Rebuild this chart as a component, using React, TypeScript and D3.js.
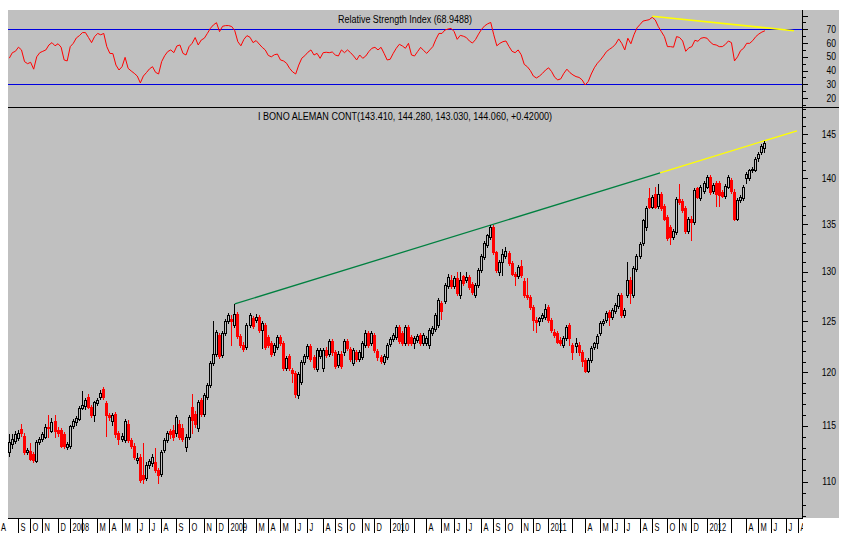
import React from "react";
import * as d3 from "d3";

type Bar = [number, number, number, number]; // open, high, low, close

const bars2007: Bar[] = [
  [112.6,114.2,112.3,113.5],[113.3,114.2,113.0,113.8],[113.6,114.5,113.4,114.2],[113.9,114.6,113.7,114.3],[114.7,115.2,114.1,114.3],
  [114.1,114.3,112.4,112.6],[112.6,113.0,112.4,112.8],[112.7,113.4,111.9,112.0],[112.4,112.6,111.7,111.9],[111.8,113.7,111.7,113.5],
  [113.5,114.0,113.3,113.8],[113.8,114.4,113.6,114.2],[114.0,115.2,113.9,114.9],[114.9,116.0,114.0,114.8],[114.5,115.7,114.4,115.3],
  [115.4,116.0,114.0,114.5],[114.6,114.9,114.1,114.3],[114.6,114.8,113.1,113.2],[114.2,114.4,113.0,113.2],[113.1,113.5,112.9,113.3],
];
const bars2008: Bar[] = [
  [113.2,115.1,113.0,115.0],[115.0,115.6,114.8,115.4],[115.3,115.9,115.1,115.7],[115.6,116.8,115.5,116.6],[116.6,118.2,116.5,116.9],
  [116.8,117.6,116.5,117.4],[117.7,117.9,116.6,116.7],[116.7,116.9,115.8,116.0],[116.0,117.3,115.4,117.2],[117.1,117.6,116.9,117.4],
  [117.7,118.3,117.5,118.0],[118.4,118.6,117.5,117.7],[117.1,117.3,114.1,116.0],[116.0,116.2,115.5,115.8],[115.4,116.2,115.1,116.0],
  [116.1,116.3,114.0,114.2],[114.3,114.5,113.3,113.8],[113.8,114.3,113.6,114.1],[113.7,115.6,113.5,115.4],[115.2,115.5,113.5,113.7],
  [113.7,113.9,113.0,113.2],[113.2,113.4,112.0,112.2],[111.9,112.5,111.6,112.1],[112.2,112.4,110.0,110.1],[110.6,113.4,109.9,110.2],
  [110.3,111.7,110.1,111.5],[111.5,112.0,111.2,111.8],[111.6,112.4,111.4,112.2],[111.7,113.0,110.8,111.0],[111.0,111.2,109.9,110.6],
  [110.7,112.8,110.5,112.6],[112.8,113.9,112.6,113.7],[113.7,114.5,113.5,114.3],[114.5,114.7,113.9,114.2],[114.6,115.1,113.7,114.0],
  [114.3,116.0,114.1,115.8],[115.2,115.5,113.8,114.0],[114.8,115.2,113.6,113.8],[113.1,114.2,112.7,114.0],[114.0,116.0,113.8,115.8],
  [116.7,117.9,114.3,115.5],[116.1,116.4,114.9,115.2],[114.8,117.4,114.5,117.2],[117.4,117.6,115.9,116.1],[116.1,118.0,115.9,117.8],
  [117.7,119.0,117.5,118.8],[118.8,121.1,118.6,120.9],[120.9,125.0,120.7,121.8],[121.8,124.1,121.6,123.9],[123.6,123.8,121.4,121.6],
  [121.7,124.0,121.5,123.8],[123.8,125.2,123.6,125.0],
];
const bars2009: Bar[] = [
  [125.0,125.8,124.8,125.6],[125.2,125.6,122.6,125.0],[124.6,126.7,124.4,125.7],[125.7,125.9,123.3,123.5],[123.5,123.7,122.4,122.6],
  [122.6,122.9,122.0,122.2],[122.4,124.8,122.2,124.6],[124.6,125.8,124.4,125.6],[125.3,125.5,124.3,124.5],[125.1,125.7,124.9,125.4],
  [125.4,125.6,123.9,124.1],[124.1,125.0,122.3,124.8],[124.6,124.8,122.2,122.4],[123.4,123.6,122.4,122.6],[122.8,123.0,121.6,121.8],
  [121.9,122.8,121.7,122.6],[122.4,123.6,122.2,123.4],[123.4,123.6,122.6,122.8],[122.8,123.0,120.2,120.4],[120.4,121.6,120.2,121.4],
  [121.6,121.8,120.2,120.4],[120.2,120.4,119.1,119.9],[119.9,120.1,117.7,117.9],[117.8,120.0,117.6,119.8],[119.1,121.2,118.9,121.0],
  [121.0,121.8,120.8,121.6],[121.6,122.7,121.4,122.5],[122.5,122.7,121.1,121.3],[121.5,121.7,120.3,120.5],[120.3,122.3,120.1,122.1],
  [121.6,122.3,121.4,122.1],[120.4,122.3,120.1,122.1],[122.1,122.4,121.5,121.7],[121.8,123.2,121.6,123.0],[123.0,123.2,121.7,121.9],
  [121.9,122.1,120.4,120.6],[120.7,122.0,120.5,121.8],[121.8,122.0,120.4,120.6],[121.9,123.2,121.7,123.0],[123.0,123.2,122.1,122.3],
  [122.2,122.4,121.1,121.3],[120.9,122.3,120.7,122.1],[121.9,122.1,121.1,121.3],[121.3,122.1,121.1,121.9],[121.5,123.0,121.3,122.8],
  [122.6,124.1,122.4,123.8],[123.8,124.0,122.4,122.6],[122.8,124.0,122.6,123.8],[123.6,123.8,121.9,122.1],[122.0,122.2,121.2,121.5],
  [121.5,121.7,120.9,121.1],[121.0,121.8,120.8,121.6],[121.5,122.8,121.3,122.6],
];
const bars2010: Bar[] = [
  [122.7,123.4,122.5,123.2],[123.2,123.8,123.0,123.6],[123.4,124.6,123.2,124.4],[124.4,124.6,122.8,123.0],[123.8,124.0,122.6,122.8],
  [122.8,124.6,122.6,124.4],[124.4,124.6,122.6,122.8],[123.4,123.6,122.6,122.8],[122.8,123.5,122.3,123.3],[123.1,123.7,122.9,123.5],
  [123.6,123.8,122.6,122.8],[122.8,123.8,122.6,123.6],[122.8,123.5,122.6,123.3],[122.6,124.3,122.3,124.1],[123.8,124.5,123.6,124.3],
  [124.2,125.8,124.0,125.6],[124.6,127.3,124.4,127.1],[126.8,127.0,125.2,126.0],[127.0,128.8,126.8,128.6],[128.5,129.8,128.3,129.4],
  [129.1,129.6,128.3,128.5],[128.5,129.5,128.3,129.3],[129.3,130.0,127.6,127.8],[127.6,130.0,127.3,129.1],[129.5,129.7,128.6,128.8],
  [129.1,130.0,128.9,129.4],[129.4,129.6,128.2,128.4],[128.7,128.9,127.7,127.9],[127.6,128.8,127.4,128.6],[128.6,130.4,128.4,130.2],
  [130.2,131.8,130.0,131.6],[131.5,133.2,131.3,133.0],[132.8,134.0,132.6,133.8],[133.6,134.9,133.4,134.7],[134.7,134.9,131.8,132.0],
  [132.0,132.2,130.0,130.2],[130.0,131.2,129.7,131.0],[131.0,132.4,129.6,131.8],[131.6,132.6,131.4,132.1],[131.9,132.2,130.7,130.9],
  [130.9,131.1,129.6,129.8],[129.8,130.0,128.6,129.5],[129.5,130.7,129.3,130.5],[130.6,131.2,129.4,129.6],[129.0,129.3,127.4,127.6],
  [127.6,129.3,127.2,127.4],[127.4,127.6,126.2,126.4],[126.4,126.6,124.1,125.1],[125.1,125.4,123.9,124.9],[125.0,125.4,124.6,125.3],
  [125.3,125.8,125.0,125.6],[125.4,126.7,125.2,126.2],
];
const bars2011: Bar[] = [
  [126.4,126.6,124.9,125.1],[125.1,125.3,123.9,124.1],[123.9,124.2,123.4,123.6],[123.8,124.0,122.8,122.9],[123.1,123.4,122.6,122.8],
  [122.6,123.5,122.4,123.3],[123.3,124.6,123.1,124.4],[124.6,124.8,122.6,123.3],[122.6,122.8,121.3,121.9],[122.5,123.3,121.9,122.8],
  [122.6,122.9,121.7,121.9],[121.9,122.1,120.6,121.1],[121.2,121.4,120.0,120.1],[120.1,121.4,120.0,121.2],[121.2,122.5,121.0,122.3],
  [122.4,122.9,122.2,122.8],[122.8,123.7,122.3,123.5],[123.8,125.0,123.6,124.8],[124.8,125.2,124.6,125.0],[125.1,126.0,124.9,125.8],
  [125.9,126.1,124.6,125.4],[125.4,126.3,125.2,126.1],[126.0,126.8,125.8,126.6],[126.5,127.8,126.3,127.6],[127.6,127.8,125.4,125.6],
  [125.6,126.3,125.4,126.1],[127.6,131.0,127.4,129.1],[129.1,129.4,126.8,127.8],[127.6,130.6,127.4,130.4],[130.3,131.8,130.1,131.6],
  [131.6,133.1,131.4,132.9],[133.0,135.6,132.8,135.4],[134.7,137.0,134.4,136.7],[137.8,138.9,136.7,136.9],[136.9,138.2,136.7,138.0],
  [138.3,139.1,136.7,136.9],[137.0,139.4,136.8,138.3],[138.3,138.5,136.5,136.7],[137.0,137.2,135.4,135.6],[135.8,136.0,133.3,133.5],
  [134.7,134.9,132.9,133.6],[133.6,134.5,133.4,134.3],[134.2,137.9,134.0,137.7],[137.7,139.4,137.2,137.4],[137.5,137.7,136.3,136.5],
  [136.8,137.0,134.1,134.3],[134.3,135.8,134.1,135.6],[135.6,135.9,133.3,135.2],[135.2,138.9,135.0,138.7],[138.9,139.1,137.8,138.0],
  [137.8,139.3,137.6,139.1],[138.6,139.7,138.4,139.5],
];
const bars2012: Bar[] = [
  [139.1,140.4,138.9,140.2],[140.2,140.4,138.3,138.5],[138.6,139.5,138.4,139.3],[139.5,139.7,137.0,138.3],[139.5,139.7,137.0,138.2],
  [138.5,138.7,137.9,138.1],[138.1,139.4,137.8,139.2],[139.1,140.4,138.9,140.2],[139.8,140.0,138.4,138.6],[138.5,138.8,135.4,135.6],
  [135.6,137.8,135.4,137.6],[137.6,138.2,137.4,138.0],[137.8,139.3,137.6,139.1],[140.0,140.7,139.5,140.5],[140.0,141.1,139.8,140.9],
  [140.9,141.3,140.7,141.1],[141.0,142.4,140.8,142.2],[142.3,143.0,142.0,142.8],[143.0,143.9,142.8,143.7],[143.41,144.28,143.03,144.06],
];

const rsi2007 = [49,53,54,57,55,46.5,45,46,41,50,53,54,55,58.6,60.3,58,59.5,57,47.7,47];
const rsi2008 = [
  57.4,59.8,63.7,65.4,67.6,67.6,64,60.3,64.7,67, 66,67,57.4,52.5,52.3,44,40.4,42.8,49.6,41.6,
  39.7,38,36,31,36,38.5,41.2,42.8,38.7,37.5, 46.5,50.8,53.8,55,53,57.9,58.6,52.5,51.3,57.4,
  59.8,64,58.6,62.2,63.5,67,70.7,73.2,74.8,68.3, 72.2,72.7,
];
const rsi2009 = [
  72.7,72,69,61,58,62.7,65.4,64.2,60.3,61.8, 59.3,56.9,55,51,50,51.5,52,47.7,47,45.3,
  41.6,39,37.5,44,49,50.8,53.3,55,51.3,52.5, 48.9,53,53.3,53,53.5,51.3,50.6,55,53,55,
  53,50.6,47.7,51.3,48.9,50.6,53.8,56.2,56.9,55, 56.9,52.5,47.7,
];
const rsi2010 = [
  48.2,52.5,56.2,59.1,57.9,56.2,59.8,51.3,50.6,53.8, 56.9,54.5,52.5,55,57.4,62.7,67,67,69.5,70.2,
  70.7,68.3,62.7,65.6,65,64,61.5,60,62.5,66.5, 70,72.5,74,75,66,58,59.8,61,61.5,57.5,
  54,53,55,51.5,44.5,42.8,40,36,34.6,36, 38,40.4,
];
const rsi2011 = [
  42,39.2,35.1,33.2,34,38,41,38.5,36.8,35.6, 35,33.2,29.5,32,37.5,42,45.3,47.7,50.6,53.8,
  55.5,57,59.3,63,59.8,55,63.5,59.5,66,71, 73.5,76,76.5,77,78.7,76.8,72,68.3,64.7,57.4,
  57.4,57,64.7,64,61.5,54,56.5,57.4,62,61.3, 63.5,64,
];
const rsi2012 = [63.5,60.8,59,58.6,57.4,57.4,59,61.5,60.3,47,50,54.5,56.2,59.8,59.8,61.8,64.7,66.6,68,68.9488];

const priceTitle = "I BONO ALEMAN CONT(143.410, 144.280, 143.030, 144.060, +0.42000)";
const rsiTitle = "Relative Strength Index (68.9488)";
const priceTickValues = d3.range(107, 149);
const rsiTickValues = d3.range(15, 85, 5);
const rsiLevels = [30, 70];
const monthInitials = ["J", "F", "M", "A", "M", "J", "J", "A", "S", "O", "N", "D"];
const hiddenMonthLabels = ["2008-1", "2009-1", "2010-1", "2010-2", "2011-1", "2011-2", "2012-1", "2012-2"];
const priceTrend = [{ bar: 74, value: 126.7 }, { bar: 158, value: 134.9 }];
const priceTrendBreak = 213.6;
const priceTrendEnd = 258.5;
const rsiTrend = [{ bar: 211, value: 79.5 }, { bar: 257.5, value: 69 }];

const bars: Bar[] = [...bars2007, ...bars2008, ...bars2009, ...bars2010, ...bars2011, ...bars2012];
const rsi: number[] = [...rsi2007, ...rsi2008, ...rsi2009, ...rsi2010, ...rsi2011, ...rsi2012];

const W = 848, H = 545;
const plotL = 8, plotR = 802, stripR = 839;
const rsiTop = 10, sepY = 107.5, priceTop = 108, priceBottom = 518;
const FONT = "'Liberation Sans', Arial, Helvetica, sans-serif";

const xs = d3.scaleLinear().domain([0, bars.length - 1]).range([9.3, 9.3 + 3.047 * (bars.length - 1)]);
const ys = d3.scaleLog().domain([106.86, 148.07]).range([priceBottom, priceTop]);
const yr = d3.scaleLinear().domain([30, 70]).range([84.3, 29.3]);

function barDate(i: number): Date {
  const d = new Date(2007, 7, 17 + 7 * i);
  if (d.getMonth() === 0 && d.getDate() === 1) return new Date(d.getFullYear() - 1, 11, 31);
  return d;
}

export default function App() {
  const monthTicks: { i: number; d: Date }[] = [];
  for (let i = -3; i <= 262; i++) {
    const d = barDate(i), p = barDate(i - 1);
    if (d.getMonth() !== p.getMonth()) monthTicks.push({ i, d });
  }

  const trendPrice = (b: number) => {
    const [a, c] = priceTrend;
    const k = (Math.log(c.value) - Math.log(a.value)) / (c.bar - a.bar);
    return Math.exp(Math.log(a.value) + (b - a.bar) * k);
  };
  const tl = d3.line<number>().x((b) => xs(b)).y((b) => ys(trendPrice(b)));
  const rsiTl = d3.line<{ bar: number; value: number }>().x((p) => xs(p.bar)).y((p) => yr(p.value));
  const rsiLine = d3.line<number>().x((_, i) => xs(i)).y((v) => yr(v));

  return (
    <svg width={W} height={H} style={{ position: "absolute", left: 0, top: 0, background: "#fff" }} fontFamily={FONT}>
      <defs>
        <clipPath id="rsiClip"><rect x={plotL} y={rsiTop} width={plotR - plotL} height={sepY - rsiTop} /></clipPath>
        <clipPath id="priceClip"><rect x={plotL} y={priceTop} width={plotR - plotL} height={priceBottom - priceTop} /></clipPath>
        <clipPath id="xClip"><rect x={0} y={priceBottom} width={803} height={H - priceBottom} /></clipPath>
      </defs>
      <rect x={plotL} y={rsiTop} width={stripR - plotL} height={priceBottom - rsiTop} fill="#c0c0c0" />

      {/* RSI panel */}
      <text x={(plotL + plotR) / 2} y={23} textAnchor="middle" fontSize={10} textLength={134} lengthAdjust="spacingAndGlyphs" fill="#000">{rsiTitle}</text>
      <g clipPath="url(#rsiClip)">
        {rsiLevels.map((v) => (
          <line key={v} x1={plotL} x2={plotR} y1={Math.round(yr(v)) + 0.5} y2={Math.round(yr(v)) + 0.5} stroke="#0000e0" strokeWidth={1.2} />
        ))}
        <path d={rsiLine(rsi) || ""} fill="none" stroke="#ff0000" strokeWidth={1} />
        <path d={rsiTl(rsiTrend) || ""} fill="none" stroke="#ffff00" strokeWidth={1.6} />
      </g>

      {/* Price panel */}
      <text x={(plotL + plotR) / 2} y={120} textAnchor="middle" fontSize={10} textLength={294} lengthAdjust="spacingAndGlyphs" fill="#000">{priceTitle}</text>
      <g clipPath="url(#priceClip)">
        <path d={tl([priceTrend[0].bar, priceTrendBreak]) || ""} fill="none" stroke="#008040" strokeWidth={1.3} />
        <path d={tl([priceTrendBreak, priceTrendEnd]) || ""} fill="none" stroke="#ffff00" strokeWidth={1.3} />
        <g shapeRendering="crispEdges">
          {bars.map(([o, h, l, c], i) => {
            const px = Math.floor(xs(i));
            const yTop = Math.round(ys(Math.max(o, c)));
            const yBot = Math.round(ys(Math.min(o, c)));
            const yH = Math.round(ys(h));
            const yL = Math.round(ys(l));
            if (c >= o) {
              return (
                <g key={i}>
                  {yH < yTop && <line x1={px + 0.5} x2={px + 0.5} y1={yH} y2={yTop} stroke="#000" />}
                  {yL > yBot && <line x1={px + 0.5} x2={px + 0.5} y1={yBot + 1} y2={yL + 1} stroke="#000" />}
                  <rect x={px - 0.5} y={yTop + 0.5} width={2} height={Math.max(yBot - yTop, 1)} fill="none" stroke="#000" strokeWidth={1} />
                </g>
              );
            }
            return (
              <g key={i}>
                <line x1={px + 0.5} x2={px + 0.5} y1={yH} y2={yL + 1} stroke="#ff0000" />
                <rect x={px - 1} y={yTop} width={3} height={Math.max(yBot - yTop + 1, 1)} fill="#ff0000" />
              </g>
            );
          })}
        </g>
      </g>

      {/* frame lines */}
      <g shapeRendering="crispEdges">
        <line x1={plotL} x2={stripR} y1={sepY} y2={sepY} stroke="#000" />
        <line x1={plotL} x2={plotR} y1={priceBottom + 0.5} y2={priceBottom + 0.5} stroke="#000" strokeWidth={1.5} />
        <line x1={plotR + 0.5} x2={plotR + 0.5} y1={rsiTop} y2={priceBottom + 1} stroke="#000" />
        {rsiTickValues.map((v) => (
          <line key={"rt" + v} x1={plotR} x2={plotR + (v % 10 === 0 ? 6 : 3.5)} y1={Math.round(yr(v)) + 0.5} y2={Math.round(yr(v)) + 0.5} stroke="#000" />
        ))}
        {priceTickValues.map((v) => (
          <line key={"pt" + v} x1={plotR} x2={plotR + (v % 5 === 0 ? 6 : 3.5)} y1={Math.round(ys(v)) + 0.5} y2={Math.round(ys(v)) + 0.5} stroke="#000" />
        ))}
      </g>

      {/* right axis labels */}
      {rsiTickValues.filter((v) => v % 10 === 0 && v >= 20 && v <= 70).map((v) => (
        <text key={"rl" + v} transform={`translate(836,${yr(v) + 3.6}) scale(0.86,1)`} textAnchor="end" fontSize={10} fill="#000">{v}</text>
      ))}
      {priceTickValues.filter((v) => v % 5 === 0).map((v) => (
        <text key={"pl" + v} transform={`translate(836,${ys(v) + 3.6}) scale(0.86,1)`} textAnchor="end" fontSize={10} fill="#000">{v}</text>
      ))}

      {/* time axis */}
      <g clipPath="url(#xClip)">
        {monthTicks.map(({ i, d }) => {
          const tx = xs(i);
          const m = d.getMonth();
          const key = `${d.getFullYear()}-${m}`;
          const label = m === 0 ? String(d.getFullYear()) : monthInitials[m];
          const hidden = hiddenMonthLabels.includes(key);
          const visibleTick = tx >= plotL;
          const lx = visibleTick ? Math.floor(tx) + 2.5 : 1;
          return (
            <g key={key}>
              {visibleTick && <line x1={Math.floor(tx) + 0.5} x2={Math.floor(tx) + 0.5} y1={priceBottom} y2={533} stroke="#000" shapeRendering="crispEdges" />}
              {!hidden && (
                <text transform={`translate(${lx},531) scale(0.68,1)`} fontSize={11} fill="#000">{label}</text>
              )}
            </g>
          );
        })}
      </g>
    </svg>
  );
}
